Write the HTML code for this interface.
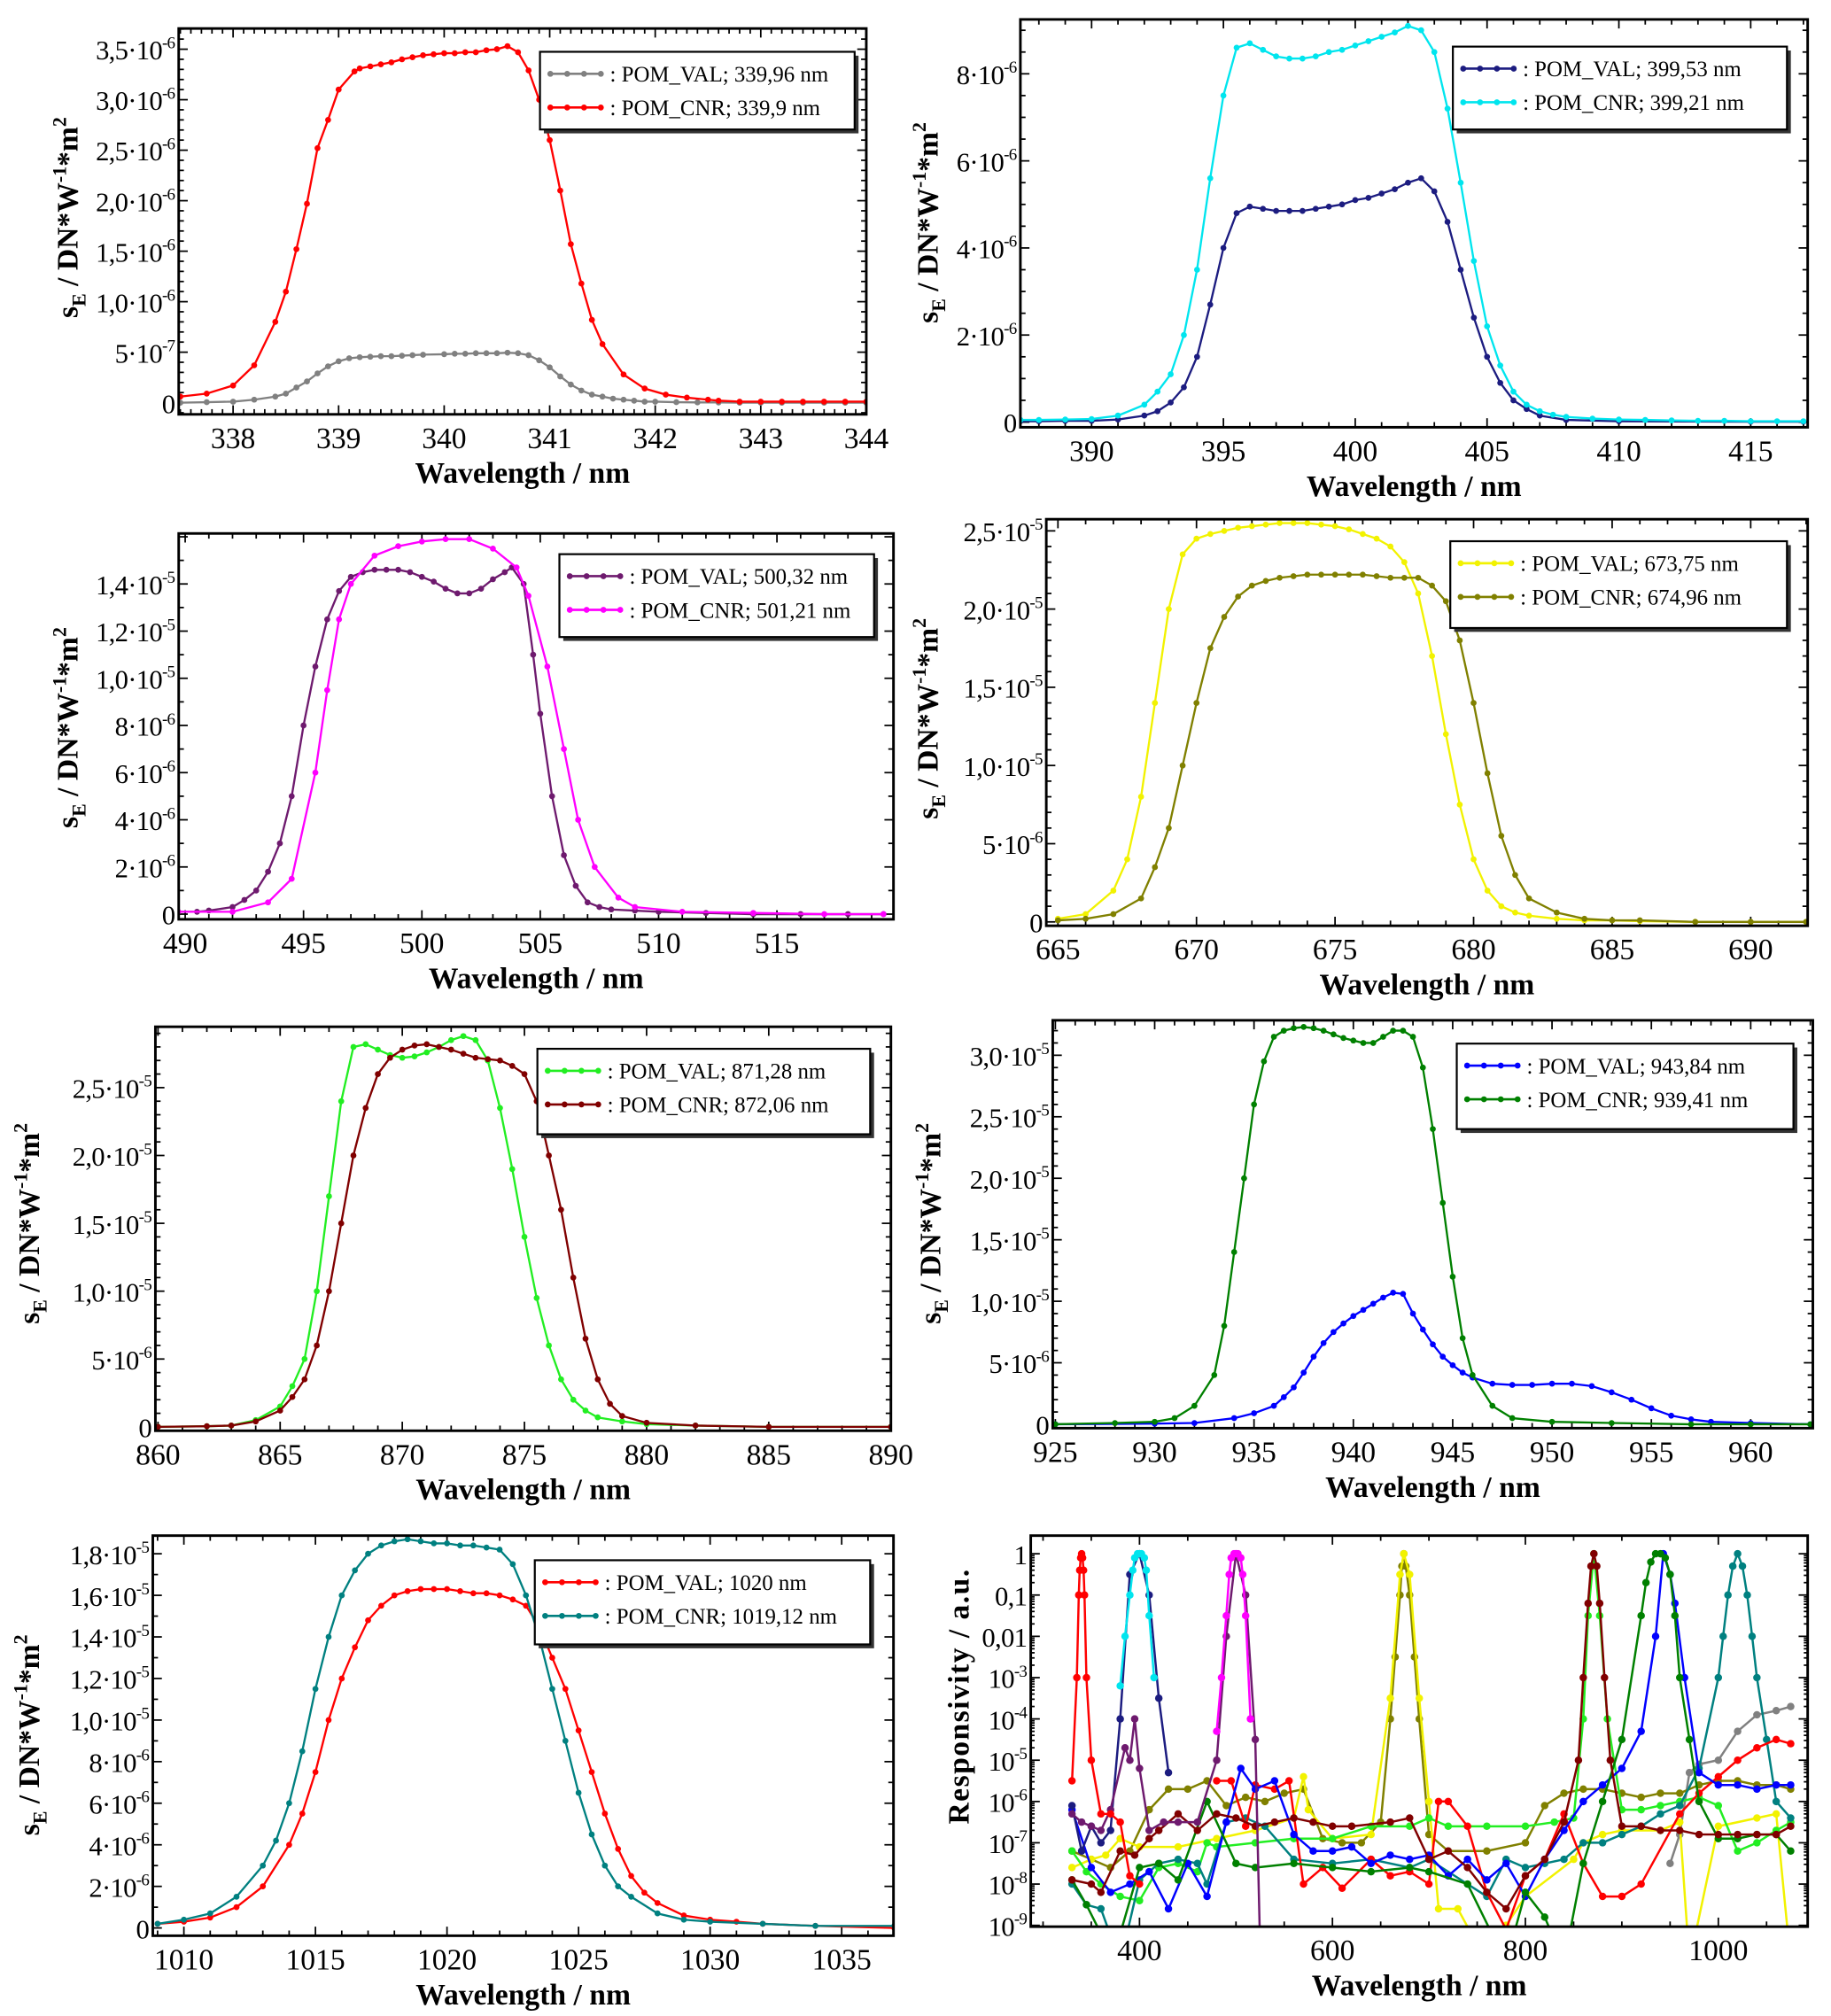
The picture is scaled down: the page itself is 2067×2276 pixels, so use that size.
<!DOCTYPE html>
<html><head><meta charset="utf-8"><style>
html,body{margin:0;padding:0;background:#fff}
svg{display:block}
text{font-family:"Liberation Serif",serif}
</style></head><body>
<svg id="fig" width="2067" height="2276" viewBox="0 0 1414 1557" xmlns="http://www.w3.org/2000/svg"></svg>
<script>
// ---- Panel 1 data (values in 1e-6)
const p1xRed=[337.5,337.75,338,338.2,338.4,338.5,338.6,338.7,338.8,338.9,339,339.15,339.2,339.3,339.4,339.5,339.6,339.7,339.8,339.9,340,340.1,340.2,340.3,340.4,340.5,340.6,340.7,340.8,340.9,341,341.1,341.2,341.3,341.4,341.5,341.7,341.9,342.1,342.3,342.5,342.6,342.8,343,343.2,343.4,343.6,343.8,344];
const p1yRed=[0.06,0.09,0.17,0.37,0.8,1.1,1.52,1.97,2.52,2.8,3.1,3.28,3.31,3.33,3.35,3.37,3.4,3.42,3.44,3.45,3.46,3.46,3.47,3.47,3.49,3.5,3.53,3.47,3.29,3.0,2.6,2.1,1.57,1.18,0.82,0.58,0.28,0.14,0.08,0.05,0.03,0.02,0.01,0.01,0.01,0.01,0.01,0.01,0.01];
const p1xGray=[337.5,337.75,338,338.2,338.4,338.5,338.6,338.7,338.8,338.9,339,339.1,339.2,339.3,339.4,339.5,339.6,339.7,339.8,340,340.1,340.2,340.3,340.4,340.5,340.6,340.7,340.8,340.9,341,341.1,341.2,341.3,341.4,341.5,341.6,341.7,341.8,341.9,342,342.2,342.4,342.6,342.8,343,343.2,343.4,343.6,343.8,344];
const p1yGray=[0,0.005,0.01,0.03,0.06,0.09,0.15,0.21,0.29,0.36,0.41,0.44,0.45,0.455,0.46,0.46,0.465,0.47,0.475,0.48,0.485,0.485,0.49,0.49,0.49,0.495,0.49,0.47,0.42,0.35,0.26,0.18,0.12,0.08,0.06,0.04,0.03,0.02,0.01,0.01,0.005,0.003,0.002,0,0,0,0,0,0,0];
// ---- Panel 2 data (1e-6)
const p2xCyan=[387.3,388,389,390,391,392,392.5,393,393.5,394,394.5,395,395.5,396,396.5,397,397.5,398,398.5,399,399.5,400,400.5,401,401.5,402,402.5,403,403.5,404,404.5,405,405.5,406,406.5,407,407.5,408,409,410,411,412,413,414,415,416,417];
const p2yCyan=[0.05,0.05,0.06,0.07,0.15,0.4,0.7,1.1,2.0,3.5,5.6,7.5,8.6,8.7,8.55,8.4,8.35,8.35,8.4,8.5,8.55,8.65,8.75,8.85,8.95,9.1,9.0,8.5,7.2,5.5,3.7,2.2,1.3,0.7,0.4,0.25,0.17,0.12,0.08,0.06,0.05,0.04,0.03,0.03,0.02,0.02,0.02];
const p2xNavy=[387.3,388,389,390,391,392,392.5,393,393.5,394,394.5,395,395.5,396,396.5,397,397.5,398,398.5,399,399.5,400,400.5,401,401.5,402,402.5,403,403.5,404,404.5,405,405.5,406,406.5,407,408,410,415,417];
const p2yNavy=[0.02,0.02,0.03,0.03,0.06,0.15,0.25,0.45,0.8,1.5,2.7,4.0,4.8,4.95,4.9,4.85,4.85,4.85,4.9,4.95,5.0,5.1,5.15,5.25,5.35,5.5,5.6,5.3,4.6,3.5,2.4,1.5,0.9,0.5,0.3,0.15,0.05,0.02,0.01,0.01];
// ---- Panel 3 data (1e-5)
const p3xPur=[489.7,490.5,491,492,492.5,493,493.5,494,494.5,495,495.5,496,496.5,497,497.5,498,498.5,499,499.5,500,500.5,501,501.5,502,502.5,503,503.5,503.8,504.3,504.7,505,505.5,506,506.5,507,507.5,508,509,510,512,514,516,518,519.5];
const p3yPur=[0.01,0.01,0.015,0.03,0.06,0.1,0.18,0.3,0.5,0.8,1.05,1.25,1.37,1.43,1.45,1.46,1.46,1.46,1.45,1.43,1.41,1.38,1.36,1.36,1.38,1.42,1.45,1.47,1.4,1.1,0.85,0.5,0.25,0.12,0.05,0.03,0.02,0.015,0.01,0.005,0,0,0,0];
const p3xMag=[489.7,492,493.5,494.5,495.5,496,496.5,497,498,499,500,501,502,503,504,504.5,505.3,506,506.6,507.3,508.3,509,511,514,517,519.5];
const p3yMag=[0.01,0.01,0.05,0.15,0.6,0.95,1.25,1.4,1.52,1.56,1.58,1.59,1.59,1.55,1.47,1.35,1.05,0.7,0.4,0.2,0.07,0.03,0.01,0.005,0,0];
// ---- Panel 4 data (1e-5)
const p4xYel=[665,666,667,667.5,668,668.5,669,669.5,670,670.5,671,671.5,672,672.5,673,673.5,674,674.5,675,675.5,676,676.5,677,677.5,678,678.5,679,679.5,680,680.5,681,681.5,682,683,684,685,686,688,690,692];
const p4yYel=[0.02,0.05,0.2,0.4,0.8,1.4,2.0,2.35,2.45,2.48,2.5,2.52,2.53,2.54,2.55,2.55,2.55,2.54,2.53,2.51,2.48,2.45,2.4,2.3,2.1,1.7,1.2,0.75,0.4,0.2,0.1,0.06,0.04,0.02,0.01,0.01,0.005,0,0,0];
const p4xOli=[665,666,667,668,668.5,669,669.5,670,670.5,671,671.5,672,672.5,673,673.5,674,674.5,675,675.5,676,676.5,677,677.5,678,678.5,679,679.5,680,680.5,681,681.5,682,683,684,685,686,688,690,692];
const p4yOli=[0.01,0.02,0.05,0.15,0.35,0.6,1.0,1.4,1.75,1.95,2.08,2.15,2.18,2.2,2.21,2.22,2.22,2.22,2.22,2.22,2.21,2.2,2.2,2.2,2.15,2.05,1.8,1.4,0.95,0.55,0.3,0.15,0.06,0.02,0.01,0.01,0,0,0];
// ---- Panel 5 data (1e-5)
const p5xGrn=[860,862,863,864,865,865.5,866,866.5,867,867.5,868,868.5,869,869.5,870,870.5,871,871.5,872,872.5,873,873.5,874,874.5,875,875.5,876,876.5,877,877.5,878,879,880,882,885,890];
const p5yGrn=[0,0.005,0.01,0.05,0.15,0.3,0.5,1.0,1.7,2.4,2.8,2.82,2.78,2.74,2.72,2.73,2.76,2.8,2.85,2.88,2.85,2.7,2.35,1.9,1.4,0.95,0.6,0.35,0.2,0.12,0.07,0.04,0.02,0.01,0,0];
const p5xBrn=[860,862,863,864,865,865.5,866,866.5,867,867.5,868,868.5,869,869.5,870,870.5,871,871.5,872,872.5,873,873.5,874,874.5,875,875.5,876,876.5,877,877.5,878,878.5,879,880,882,885,890];
const p5yBrn=[0,0.005,0.01,0.04,0.12,0.22,0.35,0.6,1.0,1.5,2.0,2.35,2.6,2.72,2.78,2.81,2.82,2.8,2.78,2.75,2.72,2.71,2.7,2.66,2.6,2.4,2.0,1.6,1.1,0.65,0.35,0.17,0.08,0.03,0.01,0,0];
// ---- Panel 6 data (1e-5)
const p6xDg=[925,928,930,931,932,933,933.5,934,934.5,935,935.5,936,936.5,937,937.5,938,938.5,939,939.5,940,940.5,941,941.5,942,942.5,943,943.5,944,944.5,945,945.5,946,947,948,950,953,957,960,963];
const p6yDg=[0,0.01,0.02,0.05,0.15,0.4,0.8,1.4,2.0,2.6,2.95,3.15,3.2,3.22,3.23,3.22,3.2,3.17,3.14,3.12,3.1,3.1,3.15,3.2,3.2,3.15,2.9,2.4,1.8,1.2,0.7,0.4,0.15,0.05,0.02,0.01,0,0,0];
const p6xBlu=[925,930,932,934,935,936,936.5,937,937.5,938,938.5,939,939.5,940,940.5,941,941.5,942,942.5,943,943.5,944,944.5,945,945.5,946,947,948,949,950,951,952,953,954,955,956,957,958,960,963];
const p6yBlu=[0,0.005,0.01,0.05,0.09,0.15,0.22,0.3,0.42,0.55,0.66,0.75,0.82,0.88,0.93,0.98,1.03,1.07,1.06,0.9,0.77,0.65,0.55,0.48,0.42,0.38,0.33,0.32,0.32,0.33,0.33,0.31,0.26,0.2,0.13,0.07,0.04,0.02,0.01,0];
// ---- Panel 7 data (1e-5)
const p7xRed=[1009,1010,1011,1012,1013,1014,1014.5,1015,1015.5,1016,1016.5,1017,1017.5,1018,1018.5,1019,1019.5,1020,1020.5,1021,1021.5,1022,1022.5,1023,1023.5,1024,1024.5,1025,1025.5,1026,1026.5,1027,1027.5,1028,1029,1030,1031,1032,1034,1037];
const p7yRed=[0.02,0.03,0.05,0.1,0.2,0.4,0.55,0.75,1.0,1.2,1.35,1.48,1.55,1.6,1.62,1.63,1.63,1.63,1.62,1.61,1.61,1.6,1.58,1.55,1.45,1.3,1.15,0.95,0.75,0.55,0.38,0.25,0.17,0.12,0.06,0.04,0.03,0.02,0.01,0];
const p7xTeal=[1009,1010,1011,1012,1013,1013.5,1014,1014.5,1015,1015.5,1016,1016.5,1017,1017.5,1018,1018.5,1019,1019.5,1020,1020.5,1021,1021.5,1022,1022.5,1023,1023.5,1024,1024.5,1025,1025.5,1026,1026.5,1027,1028,1029,1030,1032,1034,1037];
const p7yTeal=[0.02,0.04,0.07,0.15,0.3,0.42,0.6,0.85,1.15,1.4,1.6,1.72,1.8,1.84,1.86,1.87,1.86,1.85,1.85,1.84,1.84,1.83,1.82,1.75,1.6,1.4,1.15,0.9,0.65,0.45,0.3,0.2,0.15,0.07,0.04,0.03,0.02,0.01,0.01];
// ---- Panel 8 data (log10 responsivity)
const p8xRed=[330,335,337,338,339,340,341,342,343,345,350,360,370,380,390,400];
const p8yRed=[-5.5,-3,-1,-0.4,-0.1,0,-0.1,-0.4,-1,-3,-5,-6.3,-6.3,-6.5,-7.8,-8];
const p8xGray=[950,960,970,980,1000,1020,1040,1060,1075];
const p8yGray=[-7.5,-6.8,-5.3,-5.1,-5,-4.3,-3.9,-3.8,-3.7];
const p8xCyan=[380,385,390,393,395,398,400,402,405,407,410,415];
const p8yCyan=[-3.2,-2,-1,-0.4,-0.1,0,0,0,-0.1,-0.4,-1.5,-3];
const p8xNavy=[330,340,350,360,370,380,390,400,410,420,430];
const p8yNavy=[-6.1,-7.2,-6.6,-7,-6.7,-4,-0.5,0,-1,-3.5,-5.3];
const p8xPur=[330,340,350,360,370,385,390,395,400,410,425,440,460,480,490,500,510,520,525];
const p8yPur=[-6.3,-6.5,-6.6,-6.7,-6.2,-4.7,-5,-4,-5.2,-6.7,-6.5,-6.5,-6.5,-5,-2,0,-1,-4.5,-9.5];
const p8xMag=[480,485,490,493,495,498,500,502,505,507,510,515];
const p8yMag=[-4.3,-3,-1.5,-0.5,-0.1,0,0,0,-0.1,-0.5,-1.5,-4];
const p8xOli=[330,350,370,390,410,430,450,470,490,510,530,550,570,590,610,630,650,660,665,670,672,674,676,680,685,690,700,720,760,800,820,840,860,880,900,920,940,960,980,1000,1020,1040,1060,1075];
const p8yOli=[-7.2,-7.4,-7.6,-7.2,-6.2,-5.7,-5.7,-5.5,-6.1,-5.9,-6,-5.8,-5.7,-6.9,-7,-7,-6.5,-4,-2.5,-1,-0.3,0,-0.3,-1,-2.5,-4,-6.8,-7.2,-7.2,-7,-6.1,-5.8,-5.7,-5.7,-5.8,-5.9,-5.8,-5.8,-5.6,-5.5,-5.5,-5.6,-5.6,-5.7];
const p8xYel=[330,350,365,380,400,440,480,520,560,570,575,600,640,660,670,674,680,690,700,710,730,760,780,800,850,860,880,900,940,960,970,1000,1040,1060,1075];
const p8yYel=[-7.6,-7.4,-7.3,-6.9,-7.1,-7.1,-6.9,-6.7,-6.4,-5.4,-6.2,-6.9,-6.8,-3.5,-0.5,0,-0.5,-3.5,-6,-8.6,-8.6,-9.9,-9,-8.3,-7.4,-7,-6.8,-6.7,-6.7,-6.5,-9.9,-6.6,-6.4,-6.3,-9.9];
const p8xGrn=[330,345,360,380,400,420,440,460,470,480,520,560,600,640,680,700,720,760,800,830,850,860,865,871,877,885,900,920,940,960,980,1000,1020,1040,1060,1075];
const p8yGrn=[-7.2,-7.7,-8,-8.3,-8.4,-7.6,-7.5,-7.7,-7,-7.1,-7,-6.9,-6.9,-6.6,-6.6,-6.4,-6.6,-6.6,-6.6,-6.5,-6.4,-4,-1.5,0,-1.5,-4,-6.2,-6.2,-6.1,-6.0,-5.9,-6.1,-7.2,-7,-6.7,-6.5];
const p8xBrn=[330,350,360,380,395,410,420,440,460,480,500,520,540,560,580,600,620,660,680,700,720,740,760,780,800,820,840,855,860,865,868,871,874,877,882,888,900,920,940,960,980,1000,1020,1040,1060,1075];
const p8yBrn=[-7.9,-8,-8.2,-7.2,-7.3,-6.9,-6.7,-6.3,-6.7,-6.3,-6.4,-6.6,-6.5,-6.4,-6.5,-6.6,-6.6,-6.5,-6.4,-7.4,-7.2,-7.6,-8.2,-8.6,-7.8,-7.4,-6.5,-5,-3,-1.2,-0.3,0,-0.3,-1.2,-3,-5,-6.6,-6.6,-6.7,-6.7,-6.8,-6.8,-6.8,-6.8,-6.8,-6.6];
const p8xBlu=[330,350,370,390,410,430,450,470,490,505,520,540,560,580,600,620,640,660,680,700,720,740,760,780,800,820,840,860,880,900,920,935,943,950,955,965,980,1000,1020,1040,1060,1075];
const p8yBlu=[-6.2,-7.6,-8.2,-8,-7.7,-8.6,-7.5,-8.3,-6.5,-5.2,-5.7,-5.5,-6.8,-7.2,-7.2,-7.1,-7.5,-7.3,-7.4,-7.3,-7.8,-7.4,-7.9,-7.5,-8.3,-7.4,-6.7,-6,-5.6,-5.2,-4.3,-2,0,-0.5,-1.2,-3,-5.3,-5.6,-5.6,-5.7,-5.6,-5.6];
const p8xDg=[330,345,360,370,380,400,420,440,470,500,520,560,600,640,680,700,740,780,800,820,840,860,880,900,920,925,930,935,940,945,950,955,960,970,980,1000,1020,1040,1060,1075];
const p8yDg=[-7.9,-8.5,-9.2,-9.9,-9.2,-7.6,-7.5,-7.9,-6,-7.5,-7.6,-7.5,-7.6,-7.7,-7.6,-7.7,-8,-9.9,-8.2,-8.8,-9.9,-7.5,-6,-4.5,-1.5,-0.7,-0.2,0,0,-0.1,-0.5,-1.5,-3,-4.5,-6,-6.9,-6.9,-6.8,-6.8,-7.2];
const p8xTeal=[330,345,360,380,400,420,440,460,470,490,510,530,560,600,640,680,700,740,760,780,800,820,840,860,880,900,920,940,960,980,1000,1005,1010,1015,1020,1025,1030,1035,1040,1050,1060,1075];
const p8yTeal=[-8,-8.5,-8.6,-9.9,-7.9,-7.5,-7.4,-7.5,-8,-6.5,-6.4,-6.6,-7.4,-7.5,-7.4,-7.6,-7.4,-8,-8.3,-7.4,-7.6,-7.5,-7.4,-7,-7,-6.8,-6.6,-6.3,-6.1,-5.2,-3,-2,-1,-0.3,0,-0.3,-1,-2,-3,-4.5,-6,-6.4];
const p8xRed2=[480,495,510,520,540,555,570,590,610,640,660,680,700,710,720,740,760,780,800,820,840,860,880,900,920,960,980,1000,1020,1040,1060,1075];
const p8yRed2=[-5.5,-5.5,-6.6,-5.6,-5.7,-5.5,-8,-7.6,-8.1,-7.4,-7.8,-7.7,-8,-6,-6,-6.6,-8.2,-9.1,-7.8,-7.4,-6.3,-7.5,-8.3,-8.3,-8,-6.3,-5.8,-5.4,-5,-4.7,-4.5,-4.6];

const NS='http://www.w3.org/2000/svg';
const svg=document.getElementById('fig');
function el(tag,attrs,parent){const e=document.createElementNS(NS,tag);for(const k in attrs)e.setAttribute(k,attrs[k]);(parent||svg).appendChild(e);return e;}
function supText(parent,x,y,main,sup,size,anchor,bold){
  const t=el('text',{x:x,y:y,'font-size':size,'text-anchor':anchor,'font-weight':bold?'bold':'normal'},parent);
  t.appendChild(document.createTextNode(main));
  if(sup!==null&&sup!==undefined){const s=el('tspan',{dy:-size*0.42,'font-size':size*0.62},t);s.textContent=sup;}
  return t;
}
function panel(c){
  const g=el('g',{});
  
  
  const sx=v=>c.xp0+(v-c.xv0)*(c.xp1-c.xp0)/(c.xv1-c.xv0);
  const sy=v=>c.yp0+(v-c.yv0)*(c.yp1-c.yp0)/(c.yv1-c.yv0);
  const clipId='clip'+c.id;
  const cp=el('clipPath',{id:clipId},g);el('rect',{x:c.fx0,y:c.fy0,width:c.fx1-c.fx0,height:c.fy1-c.fy0},cp);
  const tg=el('g',{stroke:'#000','stroke-width':1.2},g);
  
  
  const xmin=c.xv0+(c.fx0-c.xp0)/(c.xp1-c.xp0)*(c.xv1-c.xv0), xmax=c.xv0+(c.fx1-c.xp0)/(c.xp1-c.xp0)*(c.xv1-c.xv0);
  for(let v=Math.ceil(xmin/c.xminor)*c.xminor;v<=xmax+1e-9;v+=c.xminor){const px=sx(v);const major=Math.abs(v/c.xmajor-Math.round(v/c.xmajor))<1e-6;const L=major?7:4;
    el('line',{x1:px,y1:c.fy1,x2:px,y2:c.fy1-L},tg);el('line',{x1:px,y1:c.fy0,x2:px,y2:c.fy0+L},tg);}
  if(!c.log){
    const ymin=c.yv0+(c.fy1-c.yp0)/(c.yp1-c.yp0)*(c.yv1-c.yv0), ymax=c.yv0+(c.fy0-c.yp0)/(c.yp1-c.yp0)*(c.yv1-c.yv0);
    for(let v=Math.ceil(ymin/c.yminor)*c.yminor;v<=ymax+1e-9;v+=c.yminor){const py=sy(v);const major=Math.abs(v/c.ymajor-Math.round(v/c.ymajor))<1e-6;const L=major?7:4;
      el('line',{x1:c.fx0,y1:py,x2:c.fx0+L,y2:py},tg);el('line',{x1:c.fx1,y1:py,x2:c.fx1-L,y2:py},tg);}
  } else {
    for(let d=-9;d<=0;d++){for(let m=1;m<10;m++){const v=d+Math.log10(m);if(v>0.05)break;const py=sy(v);const L=m===1?7:3;
      el('line',{x1:c.fx0,y1:py,x2:c.fx0+L,y2:py},tg);el('line',{x1:c.fx1,y1:py,x2:c.fx1-L,y2:py},tg);}}
  }
  c.xTicks.forEach(v=>{const t=el('text',{x:sx(v),y:c.fy1+26,'font-size':23,'text-anchor':'middle'},g);t.textContent=String(v);
    
    });
  c.yTicks.forEach((v,i)=>{const lb=c.yLabels[i];const t=supText(g,c.fx0-3,sy(v)+8,lb[0],lb[1],21,'end',false);
    t.setAttribute('letter-spacing','-0.5');
    
    });
  c.series.forEach(s=>{
    const sg=el('g',{'clip-path':'url(#'+clipId+')'},g);
    
    
    const pts=s.x.map((v,i)=>sx(v).toFixed(1)+','+sy(s.y[i]).toFixed(1)).join(' ');
    el('polyline',{points:pts,fill:'none',stroke:s.color,'stroke-width':c.lw||1.6},sg);
    s.x.forEach((v,i)=>{el('circle',{cx:sx(v),cy:sy(s.y[i]),r:c.mr||2.3,fill:s.color},sg);});
  });
  const fr=el('rect',{x:c.fx0,y:c.fy0,width:c.fx1-c.fx0,height:c.fy1-c.fy0,fill:'none',stroke:'#000','stroke-width':2},g);
  
  
  const xt=el('text',{x:(c.fx0+c.fx1)/2,y:c.fy1+53,'font-size':23,'font-weight':'bold','text-anchor':'middle'},g);
  xt.textContent='Wavelength / nm';
  
  
  const yt=el('text',{transform:'translate('+c.ytx+','+c.yty+') rotate(-90)','font-size':23,'font-weight':'bold','text-anchor':'middle'},g);
  
  
  if(c.log){yt.textContent='Responsivity  / a.u.';yt.setAttribute('letter-spacing','1');}
  else{
    yt.appendChild(document.createTextNode('s'));
    const s1=el('tspan',{dy:6,'font-size':15},yt);s1.textContent='E';
    const s2=el('tspan',{dy:-6},yt);s2.textContent=' / DN*W';
    const s3=el('tspan',{dy:-9,'font-size':15},yt);s3.textContent='-1';
    const s4=el('tspan',{dy:9},yt);s4.textContent='*m';
    const s5=el('tspan',{dy:-9,'font-size':15},yt);s5.textContent='2';
  }
  if(c.legend){const L=c.legend;
    const lg=el('g',{},g);
    
    
    el('rect',{x:L.x+3,y:L.y+3,width:L.w,height:L.h,fill:'#333'},lg);
    el('rect',{x:L.x,y:L.y,width:L.w,height:L.h,fill:'#fff',stroke:'#000','stroke-width':1.5},lg);
    c.series.forEach((s,i)=>{const yy=L.y+17+i*26;
      const en=el('g',{},lg);
      
      
      el('line',{x1:L.x+8,y1:yy,x2:L.x+48,y2:yy,stroke:s.color,'stroke-width':1.8},en);
      [L.x+8,L.x+21,L.x+34,L.x+47].forEach(xx=>el('circle',{cx:xx,cy:yy,r:2.3,fill:s.color},en));
      const t=el('text',{x:L.x+54,y:yy+6,'font-size':17},en);t.textContent=s.label;});
  }
}
panel({id:1,name:'panel-339nm',fx0:138,fx1:669,fy0:22,fy1:320,xv0:338,xv1:344,xp0:180,xp1:669,yv0:0,yv1:3.5,yp0:311,yp1:38,
  xmajor:1,xminor:0.1,ymajor:0.5,yminor:0.1,xTicks:[338,339,340,341,342,343,344],
  yTicks:[0,0.5,1,1.5,2,2.5,3,3.5],yLabels:[['0',null],['5·10','-7'],['1,0·10','-6'],['1,5·10','-6'],['2,0·10','-6'],['2,5·10','-6'],['3,0·10','-6'],['3,5·10','-6']],
  ytx:60,yty:168,legend:{x:417,y:40,w:243,h:60},
  series:[{name:'series-pom-val',color:'#808080',x:p1xGray,y:p1yGray,label:': POM_VAL; 339,96 nm'},{name:'series-pom-cnr',color:'#ff0000',x:p1xRed,y:p1yRed,label:': POM_CNR; 339,9 nm'}]});
panel({id:2,name:'panel-399nm',fx0:788,fx1:1396,fy0:15,fy1:330,xv0:390,xv1:415,xp0:843,xp1:1352,yv0:0,yv1:8,yp0:326,yp1:57,
  xmajor:5,xminor:1,ymajor:2,yminor:0.5,xTicks:[390,395,400,405,410,415],
  yTicks:[0,2,4,6,8],yLabels:[['0',null],['2·10','-6'],['4·10','-6'],['6·10','-6'],['8·10','-6']],
  ytx:724,yty:172,legend:{x:1122,y:36,w:258,h:64},
  series:[{name:'series-pom-val',color:'#1c1c80',x:p2xNavy,y:p2yNavy,label:': POM_VAL; 399,53 nm'},{name:'series-pom-cnr',color:'#00e5ee',x:p2xCyan,y:p2yCyan,label:': POM_CNR; 399,21 nm'}]});
panel({id:3,name:'panel-500nm',fx0:138,fx1:690,fy0:412,fy1:710,xv0:490,xv1:515,xp0:143,xp1:600,yv0:0,yv1:1.4,yp0:706,yp1:451,
  xmajor:5,xminor:1,ymajor:0.2,yminor:0.1,xTicks:[490,495,500,505,510,515],
  yTicks:[0,0.2,0.4,0.6,0.8,1.0,1.2,1.4],yLabels:[['0',null],['2·10','-6'],['4·10','-6'],['6·10','-6'],['8·10','-6'],['1,0·10','-5'],['1,2·10','-5'],['1,4·10','-5']],
  ytx:60,yty:562,legend:{x:432,y:428,w:243,h:64},
  series:[{name:'series-pom-val',color:'#6e1a6e',x:p3xPur,y:p3yPur,label:': POM_VAL; 500,32 nm'},{name:'series-pom-cnr',color:'#ff00ff',x:p3xMag,y:p3yMag,label:': POM_CNR; 501,21 nm'}]});
panel({id:4,name:'panel-674nm',fx0:808,fx1:1396,fy0:401,fy1:715,xv0:665,xv1:690,xp0:817,xp1:1352,yv0:0,yv1:2.5,yp0:712,yp1:410,
  xmajor:5,xminor:1,ymajor:0.5,yminor:0.1,xTicks:[665,670,675,680,685,690],
  yTicks:[0,0.5,1,1.5,2,2.5],yLabels:[['0',null],['5·10','-6'],['1,0·10','-5'],['1,5·10','-5'],['2,0·10','-5'],['2,5·10','-5']],
  ytx:724,yty:555,legend:{x:1120,y:418,w:260,h:67},
  series:[{name:'series-pom-val',color:'#f2f200',x:p4xYel,y:p4yYel,label:': POM_VAL; 673,75 nm'},{name:'series-pom-cnr',color:'#808000',x:p4xOli,y:p4yOli,label:': POM_CNR; 674,96 nm'}]});
panel({id:5,name:'panel-871nm',fx0:120,fx1:688,fy0:793,fy1:1105,xv0:860,xv1:890,xp0:122,xp1:688,yv0:0,yv1:2.5,yp0:1102,yp1:840,
  xmajor:5,xminor:1,ymajor:0.5,yminor:0.1,xTicks:[860,865,870,875,880,885,890],
  yTicks:[0,0.5,1,1.5,2,2.5],yLabels:[['0',null],['5·10','-6'],['1,0·10','-5'],['1,5·10','-5'],['2,0·10','-5'],['2,5·10','-5']],
  ytx:30,yty:945,legend:{x:415,y:810,w:257,h:66},
  series:[{name:'series-pom-val',color:'#22ee22',x:p5xGrn,y:p5yGrn,label:': POM_VAL; 871,28 nm'},{name:'series-pom-cnr',color:'#800000',x:p5xBrn,y:p5yBrn,label:': POM_CNR; 872,06 nm'}]});
panel({id:6,name:'panel-940nm',fx0:813,fx1:1400,fy0:788,fy1:1103,xv0:925,xv1:960,xp0:815,xp1:1352,yv0:0,yv1:3,yp0:1100,yp1:815,
  xmajor:5,xminor:1,ymajor:0.5,yminor:0.1,xTicks:[925,930,935,940,945,950,955,960],
  yTicks:[0,0.5,1,1.5,2,2.5,3],yLabels:[['0',null],['5·10','-6'],['1,0·10','-5'],['1,5·10','-5'],['2,0·10','-5'],['2,5·10','-5'],['3,0·10','-5']],
  ytx:726,yty:945,legend:{x:1125,y:806,w:260,h:66},
  series:[{name:'series-pom-val',color:'#0000ff',x:p6xBlu,y:p6yBlu,label:': POM_VAL; 943,84 nm'},{name:'series-pom-cnr',color:'#008000',x:p6xDg,y:p6yDg,label:': POM_CNR; 939,41 nm'}]});
panel({id:7,name:'panel-1020nm',fx0:118,fx1:690,fy0:1186,fy1:1495,xv0:1010,xv1:1035,xp0:142,xp1:650,yv0:0,yv1:1.8,yp0:1489,yp1:1200,
  xmajor:5,xminor:1,ymajor:0.2,yminor:0.1,xTicks:[1010,1015,1020,1025,1030,1035],
  yTicks:[0,0.2,0.4,0.6,0.8,1.0,1.2,1.4,1.6,1.8],yLabels:[['0',null],['2·10','-6'],['4·10','-6'],['6·10','-6'],['8·10','-6'],['1,0·10','-5'],['1,2·10','-5'],['1,4·10','-5'],['1,6·10','-5'],['1,8·10','-5']],
  ytx:30,yty:1340,legend:{x:413,y:1205,w:259,h:65},
  series:[{name:'series-pom-val',color:'#ff0000',x:p7xRed,y:p7yRed,label:': POM_VAL; 1020 nm'},{name:'series-pom-cnr',color:'#008080',x:p7xTeal,y:p7yTeal,label:': POM_CNR; 1019,12 nm'}]});
panel({id:8,name:'panel-all-channels-log',log:true,lw:1.7,mr:2.9,fx0:796,fx1:1396,fy0:1186,fy1:1488,xv0:400,xv1:1000,xp0:880,xp1:1327,yv0:0,yv1:-9,yp0:1200,yp1:1487,
  xmajor:200,xminor:50,xTicks:[400,600,800,1000],
  yTicks:[0,-1,-2,-3,-4,-5,-6,-7,-8,-9],yLabels:[['1',null],['0,1',null],['0,01',null],['10','-3'],['10','-4'],['10','-5'],['10','-6'],['10','-7'],['10','-8'],['10','-9']],
  ytx:748,yty:1310,
  series:[
   {name:'series-gray',color:'#808080',x:p8xGray,y:p8yGray},
   {name:'series-olive',color:'#808000',x:p8xOli,y:p8yOli},
   {name:'series-yellow',color:'#f2f200',x:p8xYel,y:p8yYel},
   {name:'series-green',color:'#22ee22',x:p8xGrn,y:p8yGrn},
   {name:'series-teal',color:'#008080',x:p8xTeal,y:p8yTeal},
   {name:'series-red-val',color:'#ff0000',x:p8xRed2,y:p8yRed2},
   {name:'series-blue',color:'#0000ff',x:p8xBlu,y:p8yBlu},
   {name:'series-darkgreen',color:'#008000',x:p8xDg,y:p8yDg},
   {name:'series-brown',color:'#800000',x:p8xBrn,y:p8yBrn},
   {name:'series-navy',color:'#1c1c80',x:p8xNavy,y:p8yNavy},
   {name:'series-purple',color:'#6e1a6e',x:p8xPur,y:p8yPur},
   {name:'series-cyan',color:'#00e5ee',x:p8xCyan,y:p8yCyan},
   {name:'series-magenta',color:'#ff00ff',x:p8xMag,y:p8yMag},
   {name:'series-red-cnr',color:'#ff0000',x:p8xRed,y:p8yRed}
  ]});
</script>
</body></html>
